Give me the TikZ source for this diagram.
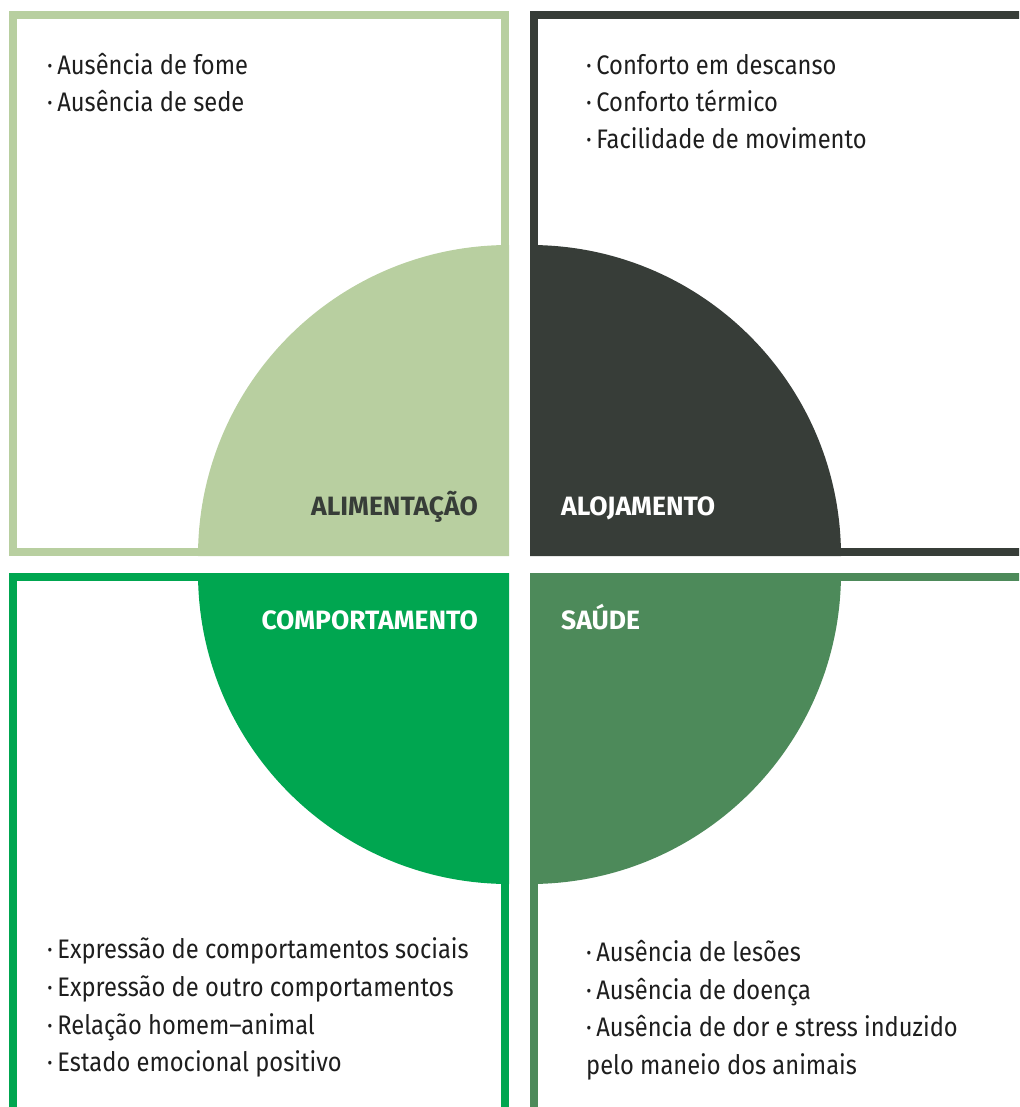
\documentclass[tikz,border=0pt]{standalone}
\usepackage{fontspec}
\setmainfont{Fira Sans}[FakeStretch=0.885]
\newfontfamily\headfont{Fira Sans}
\definecolor{cLight}{HTML}{B8CFA0}
\definecolor{cDark}{HTML}{373D38}
\definecolor{cGreen}{HTML}{00A650}
\definecolor{cMid}{HTML}{4D8A5A}
\definecolor{cText}{HTML}{1E1E1E}
\tikzset{
  frame/.style={line width=8pt},
  item/.style={anchor=base west, inner sep=0pt, text=cText, font=\fontsize{26.8}{32}\selectfont},
  head/.style={inner sep=0pt, font=\headfont\fontsize{26.5}{30}\selectfont\bfseries},
}
\begin{document}
\begin{tikzpicture}[x=1pt,y=-1pt]
\useasboundingbox (0,0) rectangle (1019,1107);
\begin{scope}
\clip (0,0) rectangle (1019,1107);
% frames
\draw[frame, cLight] (13,15) rectangle (505,552);
\draw[frame, cDark] (534,15) rectangle (1040,552);
\draw[frame, cGreen] (13,577) rectangle (505,1130);
\draw[frame, cMid] (534,577) rectangle (1040,1130);
% quarter discs
\fill[cLight] (509,556) -- (198,556) arc[start angle=180, end angle=270, radius=311] -- cycle;
\fill[cDark] (530,556) -- (530,245) arc[start angle=270, end angle=360, radius=311] -- cycle;
\fill[cGreen] (509,573) -- (198,573) arc[start angle=180, end angle=90, radius=311] -- cycle;
\fill[cMid] (530,573) -- (841,573) arc[start angle=0, end angle=90, radius=311] -- cycle;
\end{scope}
% headings
\node[head, text=cDark, anchor=base east] (hA) at (478,515) {ALIMENTAÇÃO};
\node[head, text=white, anchor=base west] (hB) at (561,515) {ALOJAMENTO};
\node[head, text=white, anchor=base east] (hC) at (478,629) {COMPORTAMENTO};
\node[head, text=white, anchor=base west] (hD) at (561,629) {SAÚDE};
% lists
\node[item] (a1) at (47,75) {·\,Ausência de fome};
\node[item] (a2) at (47,112) {·\,Ausência de sede};
\node[item] (b1) at (586,75) {·\,Conforto em descanso};
\node[item] (b2) at (586,112) {·\,Conforto térmico};
\node[item] (b3) at (586,149) {·\,Facilidade de movimento};
\node[item] (c1) at (47,958) {·\,Expressão de comportamentos sociais};
\node[item] (c2) at (47,996) {·\,Expressão de outro comportamentos};
\node[item] (c3) at (47,1034) {·\,Relação homem–animal};
\node[item] (c4) at (47,1071) {·\,Estado emocional positivo};
\node[item] (d1) at (586,961) {·\,Ausência de lesões};
\node[item] (d2) at (586,999) {·\,Ausência de doença};
\node[item] (d3) at (586,1036) {·\,Ausência de dor e stress induzido};
\node[item] (d4) at (586,1074) {pelo maneio dos animais};
\end{tikzpicture}
\end{document}
